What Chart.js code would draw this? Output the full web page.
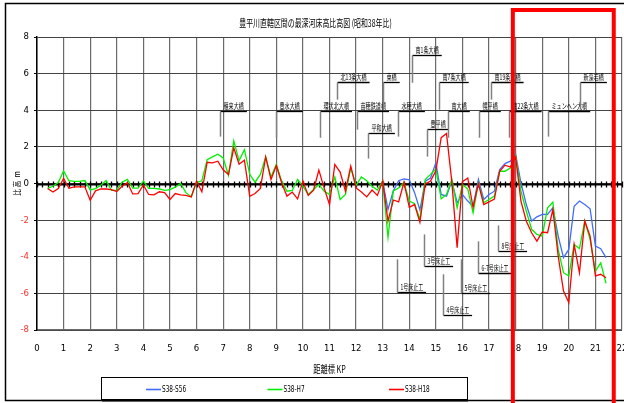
<!DOCTYPE html>
<html><head><meta charset="utf-8">
<script src="https://cdn.jsdelivr.net/npm/chart.js@4.4.1/dist/chart.umd.min.js"></script>
<style>html,body{margin:0;padding:0;background:#fff}canvas{display:block}</style>
</head><body>
<canvas id="c" width="624" height="403"></canvas>
<script>
// ---- data ----
const kp = [0.4,0.6,0.8,1.0,1.2,1.4,1.6,1.8,2.0,2.2,2.4,2.6,2.8,3.0,3.2,3.4,3.6,3.8,4.0,4.2,4.4,4.6,4.8,5.0,5.2,5.4,5.6,5.8,6.0,6.2,6.4,6.6,6.8,7.0,7.2,7.4,7.6,7.8,8.0,8.2,8.4,8.6,8.8,9.0,9.2,9.4,9.6,9.8,10.0,10.2,10.4,10.6,10.8,11.0,11.2,11.4,11.6,11.8,12.0,12.2,12.4,12.6,12.8,13.0,13.2,13.4,13.6,13.8,14.0,14.2,14.4,14.6,14.8,15.0,15.2,15.4,15.6,15.8,16.0,16.2,16.4,16.6,16.8,17.0,17.2,17.4,17.6,17.8,18.0,18.2,18.4,18.6,18.8,19.0,19.2,19.4,19.6,19.8,20.0,20.2,20.4,20.6,20.8,21.0,21.2,21.4];
const s38_h7 = [-0.27,-0.15,0.05,0.69,0.15,0.12,0.12,0.16,-0.35,-0.28,-0.10,0.16,-0.38,-0.38,0.07,0.22,-0.25,-0.25,0.13,-0.27,-0.27,-0.30,-0.38,-0.33,-0.20,0.00,-0.50,-0.72,0.05,0.15,1.30,1.45,1.60,1.40,0.45,2.33,1.25,1.85,0.50,0.07,0.50,1.45,0.35,1.04,0.13,-0.42,-0.38,0.22,-0.15,-0.60,-0.33,-0.05,-0.42,-0.60,0.36,-0.87,-0.60,0.85,-0.10,0.36,0.15,-0.15,-0.36,0.13,-2.94,-0.40,-0.25,0.05,-0.96,-1.10,-1.96,0.22,0.50,0.80,-0.84,-0.60,0.22,-1.33,-0.05,-0.30,-1.60,0.04,-1.05,-0.87,-0.69,0.67,0.67,0.85,1.50,-0.42,-1.50,-2.50,-2.78,-2.87,-1.33,-1.02,-3.60,-4.87,-5.05,-3.33,-3.56,-2.05,-3.05,-4.78,-4.33,-5.45];
const s38_h18 = [-0.27,-0.46,-0.27,0.28,-0.26,-0.18,-0.18,-0.18,-0.92,-0.40,-0.30,-0.30,-0.33,-0.44,-0.15,0.04,-0.57,-0.55,-0.08,-0.60,-0.62,-0.45,-0.50,-0.87,-0.55,-0.62,-0.65,-0.73,0.13,-0.45,1.16,1.13,1.22,0.75,0.49,1.95,1.05,1.27,-0.70,-0.55,-0.27,1.45,0.22,0.98,0.04,-0.69,-0.47,-0.84,0.13,-0.65,-0.36,0.73,-0.25,-1.15,1.04,0.62,-0.42,0.95,-0.24,-0.47,-0.73,-0.36,-0.65,0.13,-2.05,-0.90,-1.00,0.07,-1.30,-1.15,-2.12,-0.02,0.13,0.70,2.50,2.73,0.10,-3.50,0.10,0.30,-1.30,0.00,-1.15,-1.00,-0.85,0.67,1.00,0.90,1.45,-0.96,-2.05,-2.69,-3.15,-2.65,-2.69,-1.42,-3.96,-5.87,-6.50,-3.33,-4.87,-2.05,-2.87,-5.05,-4.96,-5.15];
const kpS56 = [13.0,13.2,13.4,13.6,13.8,14.0,14.2,14.4,14.6,14.8,15.0,15.2,15.4,15.6,15.8,16.0,16.2,16.4,16.6,16.8,17.0,17.2,17.4,17.6,17.8,18.0,18.2,18.4,18.6,18.8,19.0,19.2,19.4,19.6,19.8,20.0,20.2,20.4,20.6,20.8,21.0,21.2,21.4];
const s38_s56 = [0.13,-1.42,-0.40,0.15,0.25,0.20,-0.50,-1.45,0.13,0.30,1.13,-0.60,-0.69,0.13,-1.05,-0.60,-0.96,-1.24,0.22,-0.87,-0.60,-0.42,0.76,1.09,1.22,1.58,0.04,-1.15,-2.05,-1.82,-1.69,-1.69,-1.33,-2.87,-4.05,-3.60,-1.24,-0.96,-1.15,-1.38,-3.42,-3.56,-4.05];
const seriesNames = ['S38-S56','S38-H7','S38-H18'];
const xTicks = [0,1,2,3,4,5,6,7,8,9,10,11,12,13,14,15,16,17,18,19,20,21,22];
const yTicks = [-8,-6,-4,-2,0,2,4,6,8];
const chartTitle = '豊平川直轄区間の最深河床高比高図 (昭和38年比)';
const xTitle = '距離標 KP';
const yTitle = '比 高  m';

// bridge annotations (leader position in KP, tag level and leader foot in metres)
const bridgeNames = ['雁来大橋','豊水大橋','環状北大橋','北13条大橋','苗穂鉄道橋','東橋','水穂大橋','平和大橋','南1条大橋','豊平橋','南7条大橋','南大橋','幌平橋','南19条大橋','南22条大橋','ミュンヘン大橋','新藻岩橋'];
const bridgeKP = [6.88,8.98,10.64,11.28,12.03,13.0,13.57,12.44,14.1,14.66,15.11,15.45,16.62,17.07,17.74,19.21,20.41];
const bridgeTag = [3.98,3.98,3.98,5.56,3.98,5.56,3.98,2.78,7.03,3.0,5.56,3.98,3.98,5.56,3.98,3.98,5.56];
const bridgeFoot = [2.56,2.5,2.5,4.58,2.94,4.03,2.56,1.36,5.5,1.47,4.03,2.5,2.5,4.58,2.5,2.56,4.03];
// weir annotations
const weirNames = ['1号床止工','3号床止工','4号床止工','5号床止工','6-7号床止工','8号床止工'];
const weirKP = [13.53,14.55,15.26,15.94,16.58,17.33];
const weirTop = [-4.14,-2.78,-4.96,-4.14,-3.16,-2.29];
const weirTag = [-5.94,-4.52,-7.19,-5.99,-4.9,-3.71];
// highlighted range (KP)
const highlightKP = [17.895, 21.69];

// ---- styles ----
const colors = ['#3f6cff','#00f000','#ff0000'];
const NARROW = '"Liberation Sans Narrow","DejaVu Sans Condensed","Arial Narrow","Liberation Sans",sans-serif';
const CJK = '"Noto Sans CJK JP","Noto Sans",sans-serif';
Chart.defaults.font.family = NARROW;

function ctext(ctx, text, x, y, size, sx, align, color) {
  ctx.save();
  ctx.font = size + 'px ' + CJK;
  ctx.fillStyle = color || '#000';
  ctx.textBaseline = 'alphabetic';
  const w = ctx.measureText(text).width * sx;
  let x0 = x;
  if (align === 'center') x0 = x - w / 2;
  ctx.translate(x0, y);
  ctx.scale(sx, 1);
  ctx.textAlign = 'left';
  ctx.fillText(text, 0, 0);
  ctx.restore();
  return w;
}

const deco = {
  id: 'deco',
  beforeDatasetsDraw(chart) {
    const ctx = chart.ctx, xs = chart.scales.x, ys = chart.scales.y;
    const y0 = Math.round(ys.getPixelForValue(0)) + 0.5;
    ctx.save();
    ctx.strokeStyle = '#000';
    ctx.lineWidth = 1.8;
    ctx.beginPath();
    ctx.moveTo(xs.getPixelForValue(0), y0);
    ctx.lineTo(xs.getPixelForValue(22), y0);
    ctx.stroke();
    ctx.lineWidth = 1.3;
    ctx.beginPath();
    for (let i = 0; i <= 110; i++) {
      const px = Math.round(xs.getPixelForValue(i / 5)) + 0.5;
      ctx.moveTo(px, y0 - 3);
      ctx.lineTo(px, y0 + 3);
    }
    ctx.stroke();
    ctx.restore();
  },
  afterDraw(chart) {
    const ctx = chart.ctx, xs = chart.scales.x, ys = chart.scales.y, ca = chart.chartArea;
    ctx.save();
    // outer frame
    ctx.strokeStyle = '#000';
    ctx.lineWidth = 1.5;
    ctx.beginPath();
    ctx.moveTo(624, 3.5); ctx.lineTo(5.5, 3.5); ctx.lineTo(5.5, 400.5); ctx.lineTo(624, 400.5);
    ctx.stroke();
    // title
    ctext(ctx, chartTitle, (ca.left + ca.right) / 2 - 14, 27, 10.5, 0.66, 'center');
    // axis titles
    ctext(ctx, xTitle, (ca.left + ca.right) / 2, 373, 10, 0.72, 'center');
    ctx.save();
    ctx.translate(20, (ca.top + ca.bottom) / 2);
    ctx.rotate(-Math.PI / 2);
    ctext(ctx, yTitle, 0, 0, 8.5, 0.8, 'center');
    ctx.restore();
    // bridges
    bridgeNames.forEach((name, i) => {
      const px = Math.round(xs.getPixelForValue(bridgeKP[i])) + 0.5;
      const ty = Math.round(ys.getPixelForValue(bridgeTag[i])) + 0.5;
      const fy = ys.getPixelForValue(bridgeFoot[i]);
      const w = ctext(ctx, name, px + 3, ty - 3, 7.5, 0.68, 'left');
      ctx.strokeStyle = '#000'; ctx.lineWidth = 1.3;
      ctx.beginPath(); ctx.moveTo(px, ty); ctx.lineTo(px + w + 6, ty); ctx.stroke();
      ctx.strokeStyle = '#808080'; ctx.lineWidth = 1.5;
      ctx.beginPath(); ctx.moveTo(px, ty); ctx.lineTo(px, fy); ctx.stroke();
    });
    // weirs
    weirNames.forEach((name, i) => {
      const px = Math.round(xs.getPixelForValue(weirKP[i])) + 0.5;
      const ty = Math.round(ys.getPixelForValue(weirTag[i])) + 0.5;
      const topy = ys.getPixelForValue(weirTop[i]);
      const w = ctext(ctx, name, px + 3, ty - 3, 8, 0.62, 'left');
      ctx.strokeStyle = '#000'; ctx.lineWidth = 1.3;
      ctx.beginPath(); ctx.moveTo(px, ty); ctx.lineTo(px + w + 6, ty); ctx.stroke();
      ctx.strokeStyle = '#808080'; ctx.lineWidth = 1.5;
      ctx.beginPath(); ctx.moveTo(px, topy); ctx.lineTo(px, ty); ctx.stroke();
    });
    // legend
    ctx.strokeStyle = '#000'; ctx.lineWidth = 1;
    ctx.strokeRect(101.5, 377.5, 366, 22);
    ctx.lineWidth = 2;
    ctx.beginPath(); ctx.moveTo(102, 400.5); ctx.lineTo(468, 400.5); ctx.stroke();
    seriesNames.forEach((name, i) => {
      const lx = 146 + i * 121.5;
      ctx.strokeStyle = colors[i]; ctx.lineWidth = 1.6;
      ctx.beginPath(); ctx.moveTo(lx, 389.5); ctx.lineTo(lx + 15, 389.5); ctx.stroke();
      ctx.save();
      ctx.font = '8px ' + NARROW;
      ctx.fillStyle = '#000';
      ctx.textBaseline = 'middle';
      ctx.translate(lx + 16, 390);
      ctx.scale(0.8, 1);
      ctx.fillText(name, 0, 0);
      ctx.restore();
    });
    // highlight rectangle
    const hx1 = xs.getPixelForValue(highlightKP[0]);
    const hx2 = xs.getPixelForValue(highlightKP[1]);
    ctx.strokeStyle = '#ff0000'; ctx.lineWidth = 4;
    ctx.strokeRect(hx1, 10, hx2 - hx1, 400);
    ctx.restore();
  }
};

new Chart(document.getElementById('c'), {
  type: 'line',
  data: {
    datasets: [
      { label: seriesNames[0], data: kpS56.map((x, i) => ({ x, y: s38_s56[i] })), borderColor: colors[0], order: 3 },
      { label: seriesNames[1], data: kp.map((x, i) => ({ x, y: s38_h7[i] })), borderColor: colors[1], order: 2 },
      { label: seriesNames[2], data: kp.map((x, i) => ({ x, y: s38_h18[i] })), borderColor: colors[2], order: 1 }
    ]
  },
  options: {
    responsive: false,
    animation: false,
    devicePixelRatio: 1,
    layout: { padding: { top: 37, left: 0, right: 2, bottom: 43 } },
    elements: { point: { radius: 0 }, line: { borderWidth: 1.3, tension: 0 } },
    plugins: { legend: { display: false }, title: { display: false }, tooltip: { enabled: false } },
    scales: {
      x: {
        type: 'linear', min: 0, max: 22,
        afterBuildTicks: s => { s.ticks = xTicks.map(v => ({ value: v })); },
        grid: { color: '#6a6a6a', lineWidth: 1.2, drawTicks: false },
        border: { color: '#6a6a6a', width: 1.2 },
        ticks: { padding: 13, font: { size: 9.5 }, color: '#000', maxRotation: 0, autoSkip: false },
        afterFit: s => { s.height = 30; s.paddingLeft = 0; s.paddingRight = 0; }
      },
      y: {
        min: -8, max: 8,
        afterBuildTicks: s => { s.ticks = yTicks.map(v => ({ value: v })); },
        grid: { color: '#444', lineWidth: 1, tickLength: 3, tickColor: '#000' },
        border: { color: '#000', width: 1.5 },
        ticks: { padding: 5, font: { size: 9.5 }, color: c => (c.tick.value < 0 ? '#ff3030' : '#000') },
        afterFit: s => { s.width = 37; s.paddingTop = 0; s.paddingBottom = 0; }
      }
    }
  },
  plugins: [deco]
});
</script>
</body></html>
